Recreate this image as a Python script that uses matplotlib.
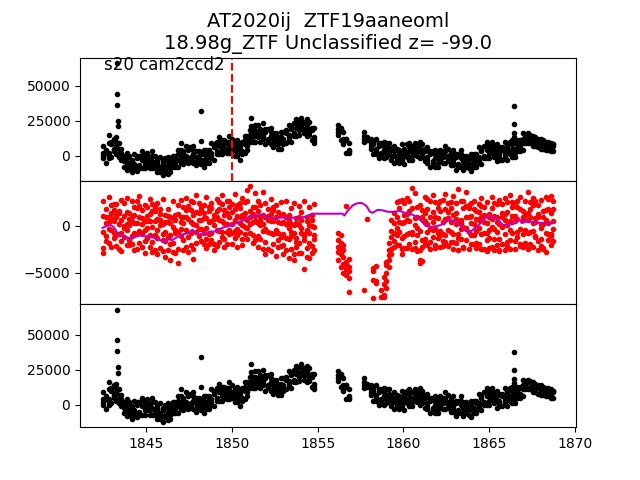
import numpy as np
import matplotlib
matplotlib.use("Agg")
import matplotlib.pyplot as plt

nan = np.nan

# observation times (days)
mjd = [1842.5, 1842.65, 1842.8, 1842.95, 1843.1, 1843.25, 1843.4, 1843.55, 1843.7, 1843.85,
       1844.0, 1844.15, 1844.3, 1844.45, 1844.6, 1844.75, 1844.9, 1845.05, 1845.2, 1845.35,
       1845.5, 1845.65, 1845.8, 1845.95, 1846.1, 1846.25, 1846.4, 1846.55, 1846.7, 1846.85,
       1847.0, 1847.15, 1847.3, 1847.45, 1847.6, 1847.75, 1847.9, 1848.05, 1848.2, 1848.35,
       1848.5, 1848.65, 1848.8, 1848.95, 1849.1, 1849.25, 1849.4, 1849.55, 1849.7, 1849.85,
       1850.0, 1850.15, 1850.3, 1850.45, 1850.6, 1850.75, 1850.9, 1851.05, 1851.2, 1851.35,
       1851.5, 1851.65, 1851.8, 1851.95, 1852.1, 1852.25, 1852.4, 1852.55, 1852.7, 1852.85,
       1853.0, 1853.15, 1853.3, 1853.45, 1853.6, 1853.75, 1853.9, 1854.05, 1854.2, 1854.35,
       1854.5, 1854.65, 1854.8,
       1856.2, 1856.35, 1856.5, 1856.65, 1856.8,
       1857.7, 1857.85,
       1858.1, 1858.25, 1858.4, 1858.55, 1858.7, 1858.85, 1859.0, 1859.15, 1859.3, 1859.45,
       1859.6, 1859.75, 1859.9, 1860.05, 1860.2, 1860.35, 1860.5, 1860.65, 1860.8, 1860.95,
       1861.1, 1861.25, 1861.4, 1861.55, 1861.7, 1861.85, 1862.0, 1862.15, 1862.3, 1862.45,
       1862.6, 1862.75, 1862.9, 1863.05, 1863.2, 1863.35, 1863.5, 1863.65, 1863.8, 1863.95,
       1864.1, 1864.25, 1864.4, 1864.55, 1864.7, 1864.85, 1865.0, 1865.15, 1865.3, 1865.45,
       1865.6, 1865.75, 1865.9, 1866.05, 1866.2, 1866.35, 1866.5, 1866.65, 1866.8, 1866.95,
       1867.1, 1867.25, 1867.4, 1867.55, 1867.7, 1867.85, 1868.0, 1868.15, 1868.3, 1868.45,
       1868.6, 1868.75]

# black light curve, in units of 1000 (four samples across the band at each time)
flux_lo = [-2, -5, -2, -1, 3, 1, -1, -3, -8, -10,
           -9, -12, -10, -11, -9, -9, -9, -6, -9, -9,
           -9, -12, -12, -14, -11, -13, -12, -8, -8, -8,
           -5, -6, -4, -5, -3, -5, -7, -5, -6, -8,
           -5, -5, -2, -3, 1, 1, 1, 3, 2, 2,
           3, 0, 0, -3, 1, 2, 4, 10, 10, 10,
           13, 10, 12, 8, 10, 8, 6, 8, 5, 5,
           8, 9, 11, 10, 14, 14, 15, 19, 16, 14,
           15, 11, 9,
           15, 11, 8, 2, 2,
           10, 11,
           5, 1, 1, -2, 0, -2, -1, 1, -3, -5,
           -4, -5, -3, -6, -1, -3, -3, 1, 0, -2,
           -1, -4, -5, -8, -6, -8, -8, -4, -5, -5,
           -4, -7, -7, -10, -8, -8, -10, -8, -9, -11,
           -8, -8, -5, -6, -2, -2, -2, 2, -1, -4,
           -3, -3, -1, -3, 1, -1, -1, 3, 3, 4,
           9, 9, 9, 7, 7, 6, 5, 5, 4, 4,
           3, 3]
flux_q = [0, 3, 0, 9, 4, 10, 2, 2, -4, -2,
          -7, -4, -8, -1, -8, 0, -6, -1, -6, 0,
          -7, -4, -10, -5, -10, -4, -9, -3, -5, 1,
          -3, 2, -2, 5, -2, 4, -4, 0, -3, 1,
          -3, 3, 0, 7, 2, 10, 4, 8, 5, 10,
          5, 8, 2, 7, 2, 11, 7, 15, 13, 18,
          15, 18, 14, 18, 11, 17, 9, 13, 8, 13,
          10, 17, 13, 20, 15, 23, 18, 24, 19, 22,
          17, 19, 11,
          17, 19, 10, 12, 3,
          12, nan,
          7, 9, 3, 8, 1, 7, 2, 6, 0, 3,
          -2, 3, -1, 4, 0, 6, 0, 6, 3, 6,
          1, 4, -3, 2, -5, 1, -5, 1, -1, 3,
          -2, 1, -5, 0, -7, 1, -7, -3, -5, -2,
          -6, 0, -3, 4, -1, 7, 1, 7, 2, 4,
          -1, 5, 1, 7, 2, 8, 2, 8, 6, 12,
          10, 15, 10, 13, 8, 11, 7, 9, 6, 8,
          4, 8]
flux_mid = [2, 2, 2, 8, 5, 7, 5, -1, -1, -5,
            -5, -5, -6, -2, -7, -3, -3, -4, -2, -4,
            -5, -5, -8, -6, -9, -7, -6, -6, -1, -3,
            -1, 1, 0, 4, -1, 1, -1, -3, 1, -3,
            -1, 2, 2, 6, 3, 7, 7, 5, 9, 7,
            7, 7, 4, 6, 3, 8, 10, 12, 17, 15,
            17, 17, 16, 17, 12, 14, 12, 10, 12, 10,
            12, 16, 15, 19, 16, 20, 21, 21, 23, 19,
            19, 18, 13,
            19, 18, 12, 11, 4,
            14, 13,
            9, 8, 5, 7, 2, 4, 5, 3, 4, 0,
            0, 2, 1, 3, 1, 3, 3, 3, 7, 3,
            3, 3, -1, 1, -4, -2, -2, -2, 2, 0,
            0, 0, -3, -1, -6, -2, -4, -6, -2, -6,
            -4, -1, -1, 3, 0, 4, 4, 4, 6, 1,
            1, 4, 3, 6, 3, 5, 5, 5, 10, 9,
            12, 14, 11, 12, 9, 10, 9, 7, 8, 6,
            6, 7]
flux_hi = [7, 4, 9, 10, 12, 13, 9, 5, 0, 2,
           0, -3, 1, 0, 0, 3, 1, 2, -1, 3,
           0, -3, -1, -4, -2, -1, -2, 0, 0, 4,
           4, 3, 7, 6, 6, 7, 3, 3, 2, 4,
           4, 4, 9, 8, 10, 13, 11, 11, 10, 14,
           12, 9, 11, 8, 10, 14, 14, 18, 18, 22,
           22, 19, 23, 19, 19, 20, 16, 16, 13, 17,
           17, 18, 22, 21, 23, 26, 25, 27, 24, 26,
           24, 20, 20,
           22, 20, 17, 12, 9,
           17, nan,
           12, 10, 12, 9, 9, 10, 9, 9, 5, 7,
           5, 4, 8, 5, 8, 9, 7, 9, 8, 10,
           8, 5, 6, 3, 3, 4, 2, 4, 3, 7,
           5, 2, 4, 1, 1, 4, 0, 0, -1, 1,
           1, 1, 6, 5, 7, 10, 8, 10, 7, 8,
           6, 6, 10, 8, 10, 11, 9, 11, 11, 16,
           15, 16, 15, 14, 13, 12, 12, 11, 10, 10,
           9, 8]

# isolated bright points (flares / artefacts)
out_t = [1843.3, 1843.3, 1843.32, 1843.34, 1843.36, 1842.8, 1848.17, 1848.22, 1847.0,
         1851.1, 1851.13, 1866.42, 1866.42, 1866.43, 1866.44]
out_f = [66, 44, 36.5, 25, 21, 14.5, 32, 10.5, 9, 27, 21.5, 35.7, 22.6, 16.5, 13.5]

# difference light curve (red), in units of 1000
diff_1 = [2.6, 0.9, 3.1, -0.4, 1.7, 2.3, 0.2, 2.8, 1.1, 3.0,
          1.4, 2.7, 0.3, 1.9, 3.2, 0.8, 2.2, -0.2, 2.9, 1.6,
          0.5, 2.4, 1.3, 2.9, -0.6, 1.8, 0.9, 2.6, 1.2, 2.2,
          2.8, 1.0, 3.0, 1.9, 0.4, 2.5, 3.3, 1.4, 2.1, 0.8,
          3.1, 1.6, 2.4, 0.7, 2.9, 1.8, 3.3, 1.2, 2.6, 2.0,
          1.5, 3.4, 2.2, 0.9, 3.0, 2.5, 3.8, 4.2, 2.0, 3.5,
          2.7, 1.1, 3.6, 2.4, 0.6, 2.9, 1.7, 2.2, 0.4, 2.5,
          1.3, 2.6, -0.2, 1.9, 2.4, 0.8, 2.1, 1.5, 2.6, 0.5,
          2.0, 1.2, 2.3,
          -0.8, -1.0, -2.0, 2.1, -3.5,
          nan, 0.7,
          nan, -4.5, -4.3, nan, nan, -5.4, -3.8, -1.8, 0.6, 1.4,
          2.5, 0.4, 2.8, 1.2, 3.0, -0.7, 4.0, 3.5, 0.9, 2.2,
          1.7, 3.1, 0.2, 2.6, 3.3, 1.0, 2.4, -0.5, 2.8, 3.4,
          0.8, 2.5, 3.2, 1.4, 3.9, 0.3, 2.6, 3.6, 1.9, 2.4,
          2.6, 0.7, 2.3, 3.0, 1.2, 2.5, -0.4, 3.1, 2.4, 1.0,
          2.8, 1.4, 3.0, 0.1, 3.3, 2.5, 1.1, 2.7, 3.1, 0.6,
          2.7, 3.6, 0.9, 3.0, 2.6, 1.3, 2.8, 0.2, 3.1, 2.9,
          3.2, 1.8]
diff_2 = [-0.6, 1.8, 0.4, 2.2, -1.3, 0.9, 1.6, -0.8, 2.4, 0.2,
          0.7, -1.1, 2.0, 0.3, -0.5, 1.7, -1.6, 1.1, 0.5, 2.3,
          1.6, -0.4, 0.1, -1.5, 1.2, 0.4, -1.9, 0.8, -0.7, 1.3,
          -0.3, 2.0, 0.9, -1.2, 1.7, 0.2, -0.6, 2.4, 0.6, 1.4,
          0.8, -0.9, 1.9, 1.2, -0.4, 2.5, 0.5, 1.7, -0.6, 1.0,
          2.3, 0.6, -0.3, 1.9, 1.2, -0.1, 2.7, 1.0, 0.4, 2.0,
          0.3, 2.2, -0.5, 1.0, 1.8, -0.8, 0.5, -0.4, 1.5, -1.2,
          0.4, -1.3, 1.2, -0.6, 0.1, -1.7, 0.9, -0.2, -1.1, 1.0,
          -0.8, 0.6, -1.4,
          -1.5, -1.8, -2.6, -3.8, -4.4,
          nan, nan,
          nan, -4.8, -5.8, nan, -6.8, -6.2, -4.2, -2.6, -0.5, 0.3,
          -0.2, 1.9, -1.3, 2.4, 0.6, 1.6, -0.9, 0.8, 2.0, -0.5,
          0.9, -1.4, 1.8, -0.3, 0.4, 2.5, -0.8, 1.6, -1.6, 0.7,
          1.5, -0.6, 1.2, 2.4, -1.3, 0.6, 1.9, -0.2, 2.2, -1.0,
          -1.0, 1.6, -0.2, 2.1, 0.4, -1.5, 1.3, 0.7, -0.3, 2.3,
          0.2, 2.3, -0.9, 1.5, -0.4, 2.0, 0.5, -1.2, 1.8, 0.9,
          1.2, -0.7, 1.8, 0.3, -1.1, 2.2, -0.2, 1.6, 0.6, -0.9,
          1.4, -0.3]
diff_3 = [1.1, -1.6, -0.3, 0.8, 0.5, -2.1, -0.9, 0.6, -1.2, -0.4,
          -2.0, 0.4, -0.8, -2.4, 0.9, -0.7, 0.5, -1.3, -2.2, -0.1,
          -1.0, 0.7, -2.3, 0.2, -1.6, -2.6, 0.3, -1.8, -2.9, -0.6,
          1.0, -1.5, -0.4, 0.7, -2.0, 1.2, 0.1, -1.1, -0.3, -1.9,
          -1.4, 0.4, -0.8, -1.9, 0.9, -0.5, -1.2, 0.3, 1.4, -0.9,
          0.2, -1.3, 1.1, -0.6, -1.4, 0.8, -0.2, 1.6, -1.0, 0.5,
          -1.1, 0.1, 1.2, -1.7, -0.6, 0.5, -1.9, -0.8, -2.2, 0.3,
          -2.0, 0.2, -1.4, -2.5, -0.7, 0.3, -1.8, -2.9, -0.9, -2.3,
          0.1, -2.1, -1.0,
          -2.2, -2.5, -3.3, -4.2, -4.8,
          nan, nan,
          nan, -5.7, -6.1, nan, -7.6, -7.3, -5.0, -3.1, -1.2, -0.7,
          0.9, -2.0, 0.3, -1.1, -2.3, 0.5, -0.6, -1.7, -0.2, -2.6,
          -1.5, 0.5, -2.0, 0.9, -1.2, -0.3, 0.8, -2.2, 0.4, -1.0,
          -2.1, 0.4, -0.9, -1.8, 0.5, -1.4, -2.2, 0.9, -0.6, 0.3,
          0.2, -1.8, 0.6, -0.9, -2.4, 0.3, -1.3, -0.1, 1.1, -2.0,
          -1.4, -0.1, 0.6, -2.1, 0.5, -0.8, -1.6, 0.7, -0.3, -2.2,
          -0.4, 0.6, -1.9, -0.5, 0.4, -1.6, 0.2, -2.3, -0.7, 0.3,
          -1.1, 0.5]
diff_4 = [-2.3, 0.3, -1.8, 1.4, -0.7, 1.2, -2.5, -1.6, 0.0, -2.0,
          0.1, -1.9, 1.2, -0.9, 2.1, -2.2, -0.4, 2.0, -1.0, -1.7,
          2.0, -1.3, 0.6, -0.9, 0.4, -1.2, -1.0, -0.1, 0.6, -2.4,
          -1.1, 0.3, -2.2, 2.1, -0.8, -2.4, 1.5, -0.3, -1.6, 2.2,
          -0.2, 2.0, -1.5, 0.1, -2.1, 0.6, 2.3, -1.4, 0.2, 2.6,
          -0.8, 1.8, -1.0, 2.4, 0.1, 1.4, 0.6, -0.7, 1.3, -1.5,
          1.6, -1.4, 0.2, -0.3, -2.4, 1.3, -0.9, 0.9, -1.5, -2.1,
          -0.9, -2.6, 0.6, -1.1, -3.0, -1.3, 0.1, -0.8, -1.5, -3.3,
          -1.8, 0.0, -2.6,
          -2.8, -3.0, -4.0, -4.6, -5.5,
          nan, nan,
          nan, -7.7, nan, nan, nan, -7.5, -5.8, -3.6, -2.4, -1.6,
          -1.0, -0.6, -2.4, 0.4, 1.3, -1.9, 1.9, -2.3, -1.0, -3.6,
          -3.7, 1.4, -0.6, -1.7, 1.5, -2.0, -1.3, 2.7, -0.9, 1.8,
          -0.4, 1.9, -1.7, 0.2, -0.9, 2.6, -0.1, -1.5, 0.9, -1.9,
          1.8, -0.5, -1.9, 0.9, 2.0, -0.8, -2.3, 1.9, -1.4, 0.4,
          -2.6, 0.9, -2.6, 2.5, -1.5, 0.4, 2.4, -0.6, -1.9, 1.6,
          -1.8, 1.4, -0.6, 2.2, -1.2, 0.9, -1.4, 1.0, -2.8, 1.8,
          -0.9, 2.6]
diff_5 = [-2.9, -1.1, 0.9, -2.2, 2.3, -1.0, 1.4, -2.7, -0.2, 1.5,
          -1.5, 1.0, -2.6, 2.6, -1.8, 0.2, -2.9, 0.5, 1.3, -2.8,
          -2.6, -3.0, 1.8, -2.7, -3.3, 1.1, -3.6, -2.8, -0.4, -3.9,
          0.4, -2.6, 1.7, -2.8, 2.6, -3.5, -1.8, 0.6, 1.8, -0.7,
          -2.3, -1.9, 0.5, -2.6, 1.6, -1.7, -0.6, -2.2, -1.9, -0.4,
          -1.9, -0.5, -2.2, 0.3, -2.0, -0.9, -1.4, 0.2, -1.8, 1.1,
          -2.2, 0.6, -2.5, -3.0, 1.1, -2.7, 2.0, -3.2, -0.7, 1.2,
          -3.0, 0.9, -3.4, 0.2, -3.6, -2.2, -2.9, 0.6, -4.6, -0.4,
          -3.4, -2.9, -0.1,
          -3.6, -4.4, -5.0, -5.2, -7.0,
          -6.85, nan,
          nan, nan, nan, nan, nan, nan, -6.6, -4.4, -3.0, -2.2,
          -2.0, 2.6, -3.0, -2.3, -0.9, 2.7, -2.5, 0.1, -2.7, -3.9,
          -2.2, -1.8, 2.9, -2.5, -0.4, -2.3, 1.9, -1.0, -2.1, -1.7,
          2.4, -1.7, -2.4, 0.7, -2.6, -0.3, -2.3, 2.1, -2.5, 1.1,
          -1.9, -2.3, 1.5, -2.4, -0.8, -2.7, 0.9, -2.2, -2.6, -0.6,
          -2.7, -1.9, 1.3, -1.7, -2.4, 1.1, -2.5, 2.0, -2.1, -0.9,
          -2.0, -2.4, 2.5, -2.2, 0.8, -2.6, -2.1, -2.5, 1.7, -1.5,
          -2.0, -1.6]

# running median of the difference light curve (magenta), units of 1000
med_t = [1842.45, 1842.7, 1842.9, 1843.1, 1843.4, 1843.7, 1844.0, 1844.3, 1844.6, 1844.9,
         1845.2, 1845.5, 1845.8, 1846.0, 1846.2, 1846.5, 1846.8, 1847.1, 1847.4, 1847.7,
         1847.9, 1848.1, 1848.4, 1848.7, 1849.0, 1849.3, 1849.6, 1850.0, 1850.4, 1850.8,
         1851.1, 1851.5, 1851.8, 1852.1, 1852.5, 1852.9, 1853.3, 1853.6, 1853.9, 1854.3,
         1854.7, 1855.5, 1856.45, 1856.55, 1856.75, 1857.05, 1857.3, 1857.55, 1857.7, 1857.85,
         1858.05, 1858.2, 1858.5, 1858.8, 1859.1, 1859.4, 1859.8, 1860.2, 1860.5, 1860.76,
         1861.05, 1861.3, 1861.63, 1862.0, 1862.3, 1862.7, 1863.0, 1863.3, 1863.6, 1863.85,
         1864.2, 1864.5, 1864.9, 1865.2, 1865.5, 1865.8, 1866.1, 1866.4, 1866.76, 1866.9,
         1867.2, 1867.6, 1868.0, 1868.4, 1868.7]
med_f = [-0.2, 0.0, 0.1, -0.1, -1.0, -1.1, -1.3, -1.2, -1.0, -1.1,
         -1.1, -1.3, -1.5, -1.7, -1.4, -1.5, -1.2, -0.9, -0.8, -0.4,
         -0.8, -0.9, -0.8, -0.6, -0.6, -0.3, -0.1, 0.1, 0.4, 0.7,
         1.0, 1.1, 1.2, 0.9, 0.8, 0.9, 0.8, 0.9, 0.8, 1.0,
         1.3, 1.3, 1.3, 1.1, 1.6, 2.2, 2.4, 2.45, 2.3, 2.1,
         1.5, 1.4, 1.7, 1.65, 1.5, 1.5, 1.6, 1.3, 1.2, 1.0,
         0.5, 0.0, -0.1, 0.0, 0.2, 0.7, 0.5, 0.1, -0.5, -0.7,
         -0.2, 0.3, 1.1, 0.9, 0.7, 0.1, 0.1, 0.3, 0.7, 0.3,
         0.5, 0.4, 0.3, 0.2, 0.3]

KFLUX = 1000.0
bottom_shift = 2000.0   # lower panel sits about 2000 higher than the top one
t_peak = 1850.0
title = "AT2020ij  ZTF19aaneoml\n18.98g_ZTF Unclassified z= -99.0"
sector_label = "s20 cam2ccd2"

t = np.array(mjd)
t_band = np.concatenate([t, t, t, t])
f_band = np.concatenate([flux_lo, flux_q, flux_mid, flux_hi]) * KFLUX
t_lc = np.concatenate([t_band, out_t])
f_lc = np.concatenate([f_band, np.array(out_f) * KFLUX])

t_diff = np.concatenate([t] * 5)
f_diff = np.concatenate([diff_1, diff_2, diff_3, diff_4, diff_5]) * KFLUX

fig, (ax1, ax2, ax3) = plt.subplots(3, 1, sharex=True, figsize=(6.4, 4.8), dpi=100)
fig.subplots_adjust(hspace=0)

# top: light curve with peak time marker
ax1.plot(t_lc, f_lc, 'k.')
ax1.axvline(t_peak, color='r', linestyle='--')
ax1.text(0.048, 0.9, sector_label, transform=ax1.transAxes, fontsize=12)
ax1.set_title(title, fontsize=14)

# middle: difference flux and its running median
ax2.plot(t_diff, f_diff, 'r.')
ax2.plot(med_t, np.array(med_f) * KFLUX, 'm-')

# bottom: light curve again
ax3.plot(t_lc, f_lc + bottom_shift, 'k.')

fig.savefig("out.png")
